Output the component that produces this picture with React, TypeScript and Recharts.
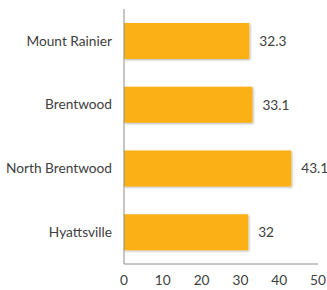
import { BarChart, Bar, XAxis, YAxis, LabelList } from "recharts";

const cities = ["Mount Rainier", "Brentwood", "North Brentwood", "Hyattsville"];
const values = [32.3, 33.1, 43.1, 32];
const xTicks = [0, 10, 20, 30, 40, 50];

const data = cities.map((name, i) => ({ name, value: values[i] }));

const font = "Lato, 'Open Sans', sans-serif";
const textStyle = { fontSize: 13.7, fill: "#404040", fontFamily: font };

export default function App() {
  return (
    <div style={{ position: "absolute", left: 0, top: 0, background: "#fff" }}>
      <BarChart
        width={327}
        height={290}
        data={data}
        layout="vertical"
        margin={{ top: 9, right: 9, bottom: 0, left: 0 }}
        barCategoryGap="22%"
      >
        <defs>
          <filter id="barShadow" x="-5%" y="-20%" width="115%" height="150%">
            <feDropShadow dx="1" dy="1" stdDeviation="0.8" floodColor="#000" floodOpacity="0.3" />
          </filter>
        </defs>
        <XAxis
          type="number"
          domain={[0, 50]}
          ticks={xTicks}
          height={26}
          axisLine={{ stroke: "#8c8c8c" }}
          tickLine={false}
          tickSize={0}
          tickMargin={11}
          tick={textStyle}
        />
        <YAxis
          type="category"
          dataKey="name"
          width={124}
          axisLine={{ stroke: "#8c8c8c" }}
          tickLine={false}
          tickSize={0}
          tickMargin={12}
          tick={textStyle}
        />
        <Bar dataKey="value" fill="#fbb117" filter="url(#barShadow)" isAnimationActive={false}>
          <LabelList dataKey="value" position="right" offset={10} style={textStyle} />
        </Bar>
      </BarChart>
    </div>
  );
}
